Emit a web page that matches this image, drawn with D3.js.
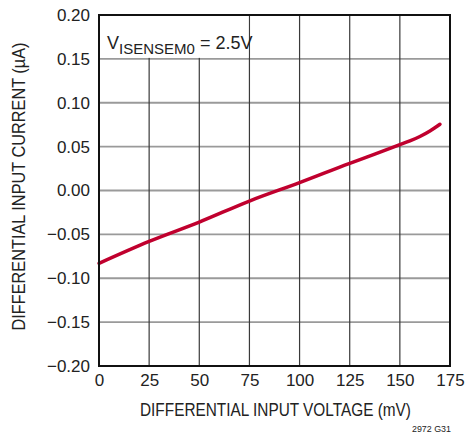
<!DOCTYPE html>
<html><head><meta charset="utf-8">
<script src="https://cdn.jsdelivr.net/npm/d3@7"></script>
<style>body{margin:0;background:#fff}svg text{font-family:"Liberation Sans",Arial,sans-serif}</style>
</head><body><svg id="c" width="466" height="436"></svg>
<script>
const voltage = [0, 25, 50, 75, 100, 125, 137.5, 150, 155, 160, 165, 170];
const current = [-0.083, -0.058, -0.036, -0.012, 0.009, 0.031, 0.0415, 0.0522, 0.0565, 0.0615, 0.0678, 0.0755];
const xTicks = [0, 25, 50, 75, 100, 125, 150, 175];
const yTicks = [-0.20, -0.15, -0.10, -0.05, 0.00, 0.05, 0.10, 0.15, 0.20];
const xTitle = "DIFFERENTIAL INPUT VOLTAGE (mV)";
const yTitle = "DIFFERENTIAL INPUT CURRENT (µA)";
const note = "2972 G31";

const svg = d3.select("#c");
const L = 99, R = 450, T = 15, B = 366;
const x = d3.scaleLinear().domain([0, 175]).range([L, R]);
const y = d3.scaleLinear().domain([-0.2, 0.2]).range([B, T]);

// horizontal grid
svg.append("g").selectAll("line").data(yTicks.slice(1, -1)).join("line")
  .attr("x1", L).attr("x2", R).attr("y1", d => y(d)).attr("y2", d => y(d))
  .attr("stroke", "#9a9a9a").attr("stroke-width", 1.8);
// vertical grid
svg.append("g").selectAll("line").data(xTicks.slice(1, -1)).join("line")
  .attr("x1", d => x(d)).attr("x2", d => x(d)).attr("y1", T).attr("y2", B)
  .attr("stroke", "#3a3a3a").attr("stroke-width", 1.2);

// label background
svg.append("rect").attr("x", L + 1).attr("y", T + 1).attr("width", x(75) - L - 2).attr("height", y(0.15) - T - 2).attr("fill", "#fff");
const lab = svg.append("text").attr("x", 107).attr("y", 49).attr("font-size", 18).attr("fill", "#222");
lab.append("tspan").text("V");
lab.append("tspan").attr("dy", 5).attr("font-size", 15).text("ISENSEM0");
lab.append("tspan").attr("dy", -5).text(" = 2.5V");

// curve
svg.append("path").datum(voltage.map((v, i) => [v, current[i]]))
  .attr("d", d3.line().x(d => x(d[0])).y(d => y(d[1])).curve(d3.curveMonotoneX))
  .attr("fill", "none").attr("stroke", "#c0002e").attr("stroke-width", 3.5).attr("stroke-linecap", "round");

// frame
svg.append("rect").attr("x", L).attr("y", T).attr("width", R - L).attr("height", B - T)
  .attr("fill", "none").attr("stroke", "#111").attr("stroke-width", 2);

// axes labels
const xa = d3.axisBottom(x).tickValues(xTicks).tickSize(0).tickPadding(8).tickFormat(d3.format("d"));
const gx = svg.append("g").attr("transform", `translate(0,${B})`).call(xa);
gx.select(".domain").remove();
gx.selectAll("text").attr("font-size", 17).attr("fill", "#222").style("font-family", "'Liberation Sans',Arial,sans-serif");
const ya = d3.axisLeft(y).tickValues(yTicks).tickSize(0).tickPadding(9).tickFormat(d => d3.format(".2f")(d).replace("-", "–"));
const gy = svg.append("g").attr("transform", `translate(${L},0)`).call(ya);
gy.select(".domain").remove();
gy.selectAll("text").attr("font-size", 17).attr("fill", "#222").style("font-family", "'Liberation Sans',Arial,sans-serif");

svg.append("text").attr("x", 140).attr("y", 416)
  .attr("font-size", 17.5).attr("fill", "#222").attr("textLength", 271).attr("lengthAdjust", "spacingAndGlyphs").text(xTitle);
svg.append("text").attr("transform", `translate(25,${(T + B) / 2 - 4}) rotate(-90)`).attr("text-anchor", "middle")
  .attr("font-size", 17.5).attr("fill", "#222").attr("textLength", 288).attr("lengthAdjust", "spacingAndGlyphs").text(yTitle);
svg.append("text").attr("x", 451).attr("y", 432).attr("text-anchor", "end")
  .attr("font-size", 9.5).attr("fill", "#222").attr("textLength", 39).attr("lengthAdjust", "spacingAndGlyphs").text(note);
</script></body></html>
